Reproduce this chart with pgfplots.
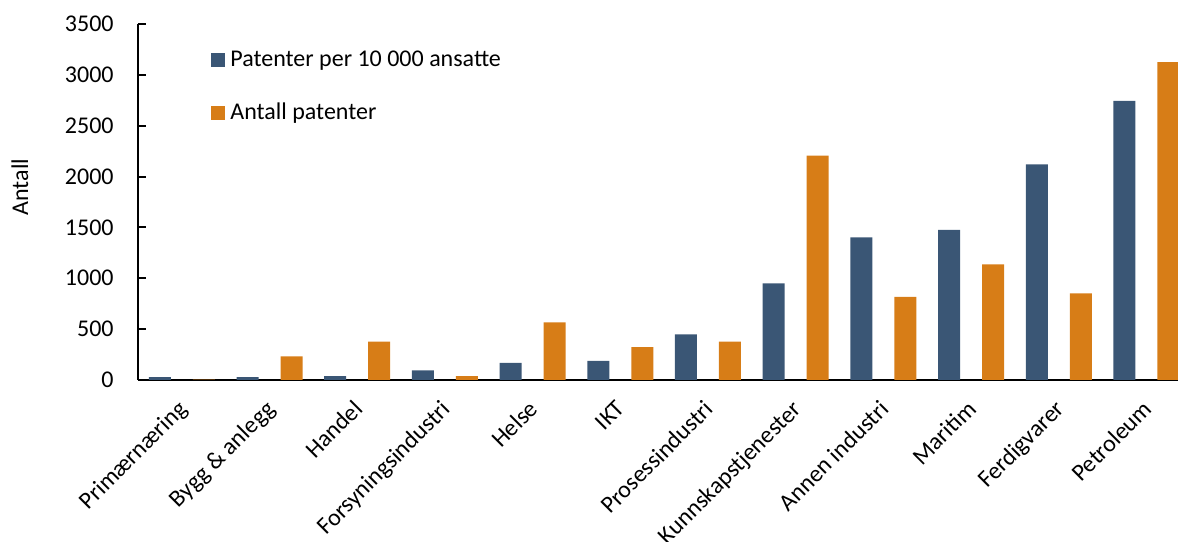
\documentclass[border=0pt]{standalone}
\usepackage{pgfplots}
\pgfplotsset{compat=1.18}
\usepackage{fontspec}
\setmainfont{Carlito}
\definecolor{cblue}{HTML}{3A5675}
\definecolor{corange}{HTML}{D77D17}
\begin{document}
\begin{tikzpicture}
\fontsize{12pt}{14pt}\selectfont
\begin{axis}[
  name=ax,
  scale only axis,
  width=520pt, height=178pt,
  ymin=0, ymax=3500,
  xmin=-0.5, xmax=11.36,
  ybar=11pt, bar width=11pt,
  axis x line*=bottom, axis y line*=left,
  axis line style={black, line width=1pt},
  ytick={0,500,...,3500},
  ytick align=inside,
  major tick length=4pt,
  ytick style={black, line width=1pt},
  xtick={0,...,11},
  xtick style={draw=none},
  xticklabels={Primærnæring,Bygg \& anlegg,Handel,Forsyningsindustri,Helse,IKT,Prosessindustri,Kunnskapstjenester,Annen industri,Maritim,Ferdigvarer,Petroleum},
  xticklabel style={xshift=-2.5pt, yshift=0.5pt, rotate=45, anchor=north east, font=\fontsize{12pt}{14pt}\selectfont},
  yticklabel style={font=\fontsize{12pt}{14pt}\selectfont, xshift=-8pt},
  /pgf/number format/assume math mode=true,
  /pgf/number format/1000 sep={},
  ylabel={Antall},
  ylabel style={font=\fontsize{13pt}{15pt}\selectfont},
  every axis y label/.style={at={(axis description cs:0,0.542)}, xshift=-59pt, rotate=90, anchor=center},
  legend style={at={(axis description cs:0.0702,0.935)}, anchor=north west, draw=none, fill=none, inner sep=0pt, row sep=13.5pt, font=\fontsize{12pt}{14pt}\selectfont, nodes={inner xsep=2.5pt, inner ysep=1.5pt}},
  legend cell align=left,
  legend image code/.code={\fill[#1] (0pt,-3.4pt) rectangle (7pt,3.4pt);},
  clip=true,
]
\addplot[fill=cblue, draw=none] coordinates {
(0,29) (1,29) (2,39) (3,95) (4,167) (5,187) (6,449) (7,950) (8,1403) (9,1475) (10,2120) (11,2743)};
\addplot[fill=corange, draw=none] coordinates {
(0,3) (1,233) (2,377) (3,39) (4,567) (5,324) (6,377) (7,2205) (8,816) (9,1137) (10,852) (11,3126)};
\legend{Patenter per 10 000 ansatte, Antall patenter}
\end{axis}
\pgfresetboundingbox
\path[use as bounding box] ([xshift=-69pt,yshift=-81pt]ax.south west) rectangle ([yshift=12pt]ax.north east);
\end{tikzpicture}
\end{document}
